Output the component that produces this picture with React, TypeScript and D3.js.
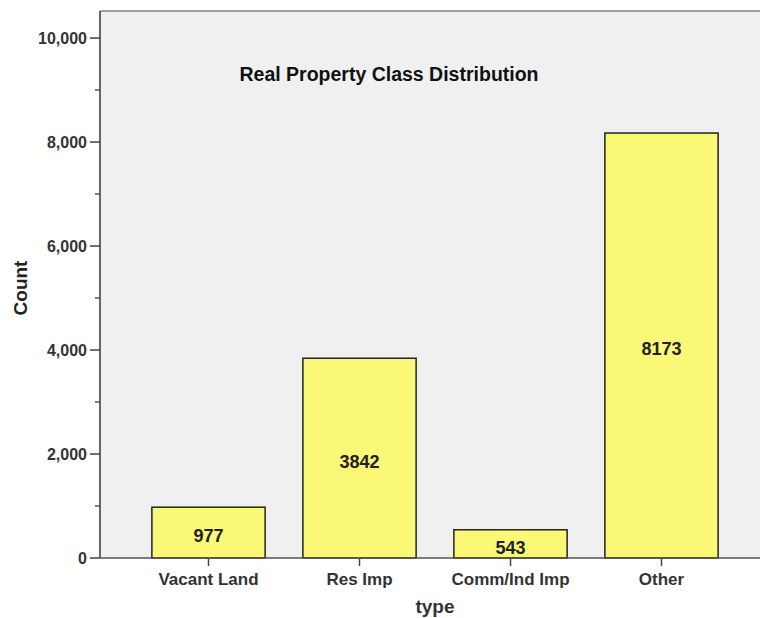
import React from "react";
import * as d3 from "d3";

const categories = ["Vacant Land", "Res Imp", "Comm/Ind Imp", "Other"];
const counts = [977, 3842, 543, 8173];
const yTicks = [0, 2000, 4000, 6000, 8000, 10000];
const yMinorTicks = [1000, 3000, 5000, 7000, 9000];
const title = "Real Property Class Distribution";
const xTitle = "type";
const yTitle = "Count";

const W = 760;
const H = 618;
const plotLeft = 100;
const plotTop = 11;
const plotBottom = 558;
const plotRight = 760;

export default function App() {
  const y = d3.scaleLinear().domain([0, 10520]).range([plotBottom, plotTop]);
  const x = d3
    .scaleBand<string>()
    .domain(categories)
    .range([133, 737])
    .paddingInner(0.25)
    .paddingOuter(0.125);
  const fmt = d3.format(",");
  const font = "'Liberation Sans', Arial, sans-serif";

  return (
    <svg
      width={W}
      height={H}
      style={{ position: "absolute", left: 0, top: 0, background: "#fff" }}
    >
      <rect x={plotLeft} y={plotTop} width={plotRight - plotLeft} height={plotBottom - plotTop} fill="#f0f0f0" />
      <line x1={plotLeft} x2={plotRight} y1={plotTop} y2={plotTop} stroke="#a0a0a0" strokeWidth={2} />
      {categories.map((c, i) => {
        const bx = x(c)!;
        const by = y(counts[i]);
        const cx = bx + x.bandwidth() / 2;
        return (
          <g key={c}>
            <rect
              x={bx}
              y={by}
              width={x.bandwidth()}
              height={plotBottom - by}
              fill="#fbf777"
              stroke="#222"
              strokeWidth={1.5}
            />
            <text
              x={0}
              y={(by + plotBottom) / 2 + 3}
              dy="0.35em"
              textAnchor="middle"
              fontFamily={font}
              fontWeight="bold"
              fontSize={19}
              fill="#222"
              transform={`translate(${cx},0) scale(0.95,1)`}
            >
              {counts[i]}
            </text>
            <line
              x1={cx}
              x2={cx}
              y1={plotBottom}
              y2={plotBottom + 8}
              stroke="#444"
              strokeWidth={1.5}
            />
            <text
              x={cx}
              y={plotBottom + 27}
              textAnchor="middle"
              fontFamily={font}
              fontWeight="bold"
              fontSize={17}
              fill="#333"
            >
              {c}
            </text>
          </g>
        );
      })}
      <line x1={plotLeft} x2={plotRight} y1={plotBottom} y2={plotBottom} stroke="#555" strokeWidth={1.5} />
      <line x1={plotLeft} x2={plotLeft} y1={plotTop} y2={plotBottom} stroke="#666" strokeWidth={2} />
      {yTicks.map((t) => (
        <g key={t}>
          <line x1={plotLeft - 10} x2={plotLeft} y1={y(t)} y2={y(t)} stroke="#444" strokeWidth={1.5} />
          <text
            x={plotLeft - 13}
            y={y(t)}
            dy="0.35em"
            textAnchor="end"
            fontFamily={font}
            fontWeight="bold"
            fontSize={16}
            fill="#333"
          >
            {fmt(t)}
          </text>
        </g>
      ))}
      {yMinorTicks.map((t) => (
        <line key={t} x1={plotLeft - 5} x2={plotLeft} y1={y(t)} y2={y(t)} stroke="#555" strokeWidth={1.5} />
      ))}
      <text
        x={389}
        y={74}
        dy="0.35em"
        textAnchor="middle"
        fontFamily={font}
        fontWeight="bold"
        fontSize={19.5}
        fill="#111"
      >
        {title}
      </text>
      <text
        x={435}
        y={606}
        dy="0.35em"
        textAnchor="middle"
        fontFamily={font}
        fontWeight="bold"
        fontSize={19}
        fill="#333"
      >
        {xTitle}
      </text>
      <text
        transform={`translate(20,288) rotate(-90)`}
        dy="0.35em"
        textAnchor="middle"
        fontFamily={font}
        fontWeight="bold"
        fontSize={19}
        fill="#222"
      >
        {yTitle}
      </text>
    </svg>
  );
}
